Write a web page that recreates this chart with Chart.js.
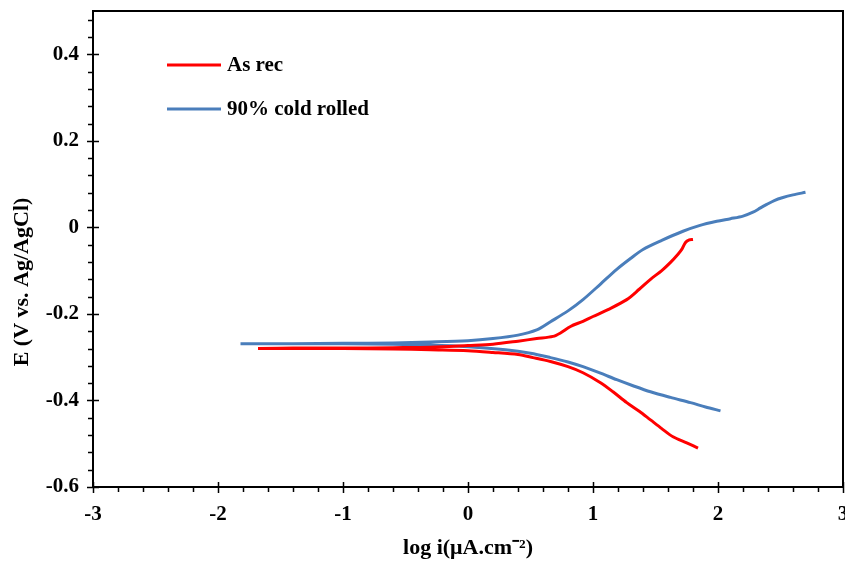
<!DOCTYPE html>
<html>
<head>
<meta charset="utf-8">
<script src="https://cdn.jsdelivr.net/npm/chart.js@4"></script>
<style>
  html, body { margin: 0; padding: 0; background: #fff; overflow: hidden; }
  #wrap { width: 845px; height: 565px; }
</style>
</head>
<body>
<div id="wrap"><canvas id="myChart"></canvas></div>
<script>
// polarisation curves, path order: cathodic end -> corrosion potential -> anodic end
const asRecX = [1.84, 1.75, 1.64, 1.55, 1.46, 1.37, 1.27, 1.16, 1.06, 0.92, 0.80, 0.66, 0.52, 0.40, 0.20, 0.0, -0.3, -0.6, -1.0, -1.4, -1.68,
  -1.4, -1.0, -0.6, -0.3, 0.0, 0.2, 0.4, 0.55, 0.68, 0.74, 0.82, 0.92, 1.0, 1.12, 1.27, 1.37, 1.46, 1.55, 1.62, 1.68, 1.71, 1.74, 1.77, 1.80];
const asRecE = [-0.510, -0.498, -0.484, -0.465, -0.445, -0.425, -0.405, -0.380, -0.359, -0.336, -0.322, -0.310, -0.301, -0.294, -0.289, -0.285, -0.283, -0.281, -0.280, -0.280, -0.280,
  -0.279, -0.279, -0.278, -0.277, -0.273, -0.270, -0.263, -0.257, -0.252, -0.244, -0.229, -0.217, -0.206, -0.190, -0.167, -0.143, -0.120, -0.100, -0.081, -0.062, -0.051, -0.035, -0.029, -0.028];

const coldX = [2.02, 1.90, 1.78, 1.62, 1.46, 1.32, 1.19, 1.06, 0.92, 0.80, 0.66, 0.50, 0.30, 0.0, -0.3, -0.6, -1.0, -1.4, -1.82,
  -1.4, -1.0, -0.6, -0.3, 0.0, 0.2, 0.4, 0.55, 0.66, 0.80, 0.92, 1.06, 1.19, 1.30, 1.40, 1.55, 1.72, 1.85, 1.99, 2.10, 2.20, 2.28, 2.34, 2.39, 2.45, 2.52, 2.60, 2.70];
const coldE = [-0.424, -0.415, -0.405, -0.393, -0.380, -0.366, -0.352, -0.337, -0.322, -0.311, -0.301, -0.291, -0.283, -0.276, -0.272, -0.270, -0.269, -0.269, -0.269,
  -0.269, -0.268, -0.267, -0.265, -0.262, -0.257, -0.249, -0.237, -0.218, -0.193, -0.167, -0.131, -0.097, -0.072, -0.051, -0.030, -0.009, 0.004, 0.014, 0.020, 0.026, 0.035, 0.045, 0.053, 0.062, 0.069, 0.075, 0.081];

const seriesNames = ['As rec', '90% cold rolled'];
const xTicks = [-3, -2, -1, 0, 1, 2, 3];
const yTicks = [-0.6, -0.4, -0.2, 0, 0.2, 0.4];

const serif = "'Liberation Serif', 'Times New Roman', serif";
const labelFont = { family: serif, size: 21, weight: 'bold' };
const titleFont = { family: serif, size: 22, weight: 'bold' };

function toPoints(xs, ys) {
  return xs.map((v, i) => ({ x: v, y: ys[i] }));
}

// top/right frame, minor ticks, major ticks crossing the axes
const framePlugin = {
  id: 'frame',
  afterDraw(chart) {
    const { ctx, chartArea: a, scales: { x, y } } = chart;
    ctx.save();
    ctx.strokeStyle = '#000';
    ctx.lineWidth = 2;
    ctx.beginPath();
    ctx.moveTo(a.left, a.top);
    ctx.lineTo(a.right, a.top);
    ctx.lineTo(a.right, a.bottom);
    ctx.stroke();

    ctx.lineWidth = 1.5;
    ctx.beginPath();
    for (let i = 0; i <= 30; i++) {
      const px = Math.round(x.getPixelForValue(x.min + i * 0.2)) + 0.5;
      const major = i % 5 === 0;
      ctx.moveTo(px, a.bottom - (major ? 5 : 0));
      ctx.lineTo(px, a.bottom + (major ? 6 : 5));
    }
    for (let i = 0; i <= 27; i++) {
      const py = Math.round(y.getPixelForValue(y.min + i * 0.04)) + 0.5;
      const major = i % 5 === 0;
      ctx.moveTo(a.left - (major ? 6 : 5), py);
      ctx.lineTo(a.left + (major ? 6 : 0), py);
    }
    ctx.stroke();
    ctx.restore();
  }
};

const legendPlugin = {
  id: 'innerLegend',
  afterDraw(chart) {
    const { ctx, chartArea: a } = chart;
    ctx.save();
    ctx.font = 'bold 21px ' + serif;
    ctx.textBaseline = 'middle';
    ctx.fillStyle = '#000';
    chart.data.datasets.forEach((ds, i) => {
      const ly = a.top + 54 + i * 44;
      ctx.strokeStyle = ds.borderColor;
      ctx.lineWidth = 3;
      ctx.beginPath();
      ctx.moveTo(a.left + 74, ly);
      ctx.lineTo(a.left + 128, ly);
      ctx.stroke();
      ctx.fillText(ds.label, a.left + 134, ly + 1);
    });
    ctx.restore();
  }
};

const yTitlePlugin = {
  id: 'yTitle',
  afterDraw(chart) {
    const { ctx, chartArea: a } = chart;
    ctx.save();
    ctx.translate(22, (a.top + a.bottom) / 2 + 33);
    ctx.rotate(-Math.PI / 2);
    ctx.font = 'bold 22px ' + serif;
    ctx.textAlign = 'center';
    ctx.textBaseline = 'middle';
    ctx.fillStyle = '#000';
    ctx.fillText('E (V vs. Ag/AgCl)', 0, 0);
    ctx.restore();
  }
};

const ctx = document.getElementById('myChart').getContext('2d');
const myChart = new Chart(ctx, {
  type: 'scatter',
  data: {
    datasets: [{
      label: seriesNames[0],
      data: toPoints(asRecX, asRecE),
      borderColor: '#FF0000',
      backgroundColor: '#FF0000',
      showLine: true,
      borderWidth: 3,
      pointRadius: 0,
      tension: 0.3
    }, {
      label: seriesNames[1],
      data: toPoints(coldX, coldE),
      borderColor: '#4A7EBB',
      backgroundColor: '#4A7EBB',
      showLine: true,
      borderWidth: 3,
      pointRadius: 0,
      tension: 0.3
    }]
  },
  options: {
    responsive: true,
    maintainAspectRatio: false,
    animation: false,
    layout: { padding: { top: 11, right: 2, left: 0, bottom: 0 } },
    plugins: {
      legend: { display: false },
      tooltip: { enabled: false }
    },
    scales: {
      x: {
        type: 'linear',
        min: -3,
        max: 3,
        afterBuildTicks: s => { s.ticks = xTicks.map(v => ({ value: v })); },
        afterFit: s => { s.height = 78; s.paddingLeft = 0; s.paddingRight = 0; },
        grid: { display: false, drawTicks: false },
        border: { color: '#000', width: 2 },
        ticks: { font: labelFont, color: '#000', padding: 15, maxRotation: 0 },
        title: {
          display: true,
          text: 'log i(μA.cm⁻²)',
          font: titleFont,
          color: '#000',
          padding: { top: 0, bottom: 3 }
        }
      },
      y: {
        type: 'linear',
        min: -0.6,
        max: 0.5,
        afterBuildTicks: s => { s.ticks = yTicks.map(v => ({ value: v })); },
        afterFit: s => { s.width = 93; s.paddingTop = 0; s.paddingBottom = 0; },
        grid: { display: false, drawTicks: false },
        border: { color: '#000', width: 2 },
        ticks: { font: labelFont, color: '#000', padding: 14 }
      }
    }
  },
  plugins: [framePlugin, legendPlugin, yTitlePlugin]
});
</script>
</body>
</html>
